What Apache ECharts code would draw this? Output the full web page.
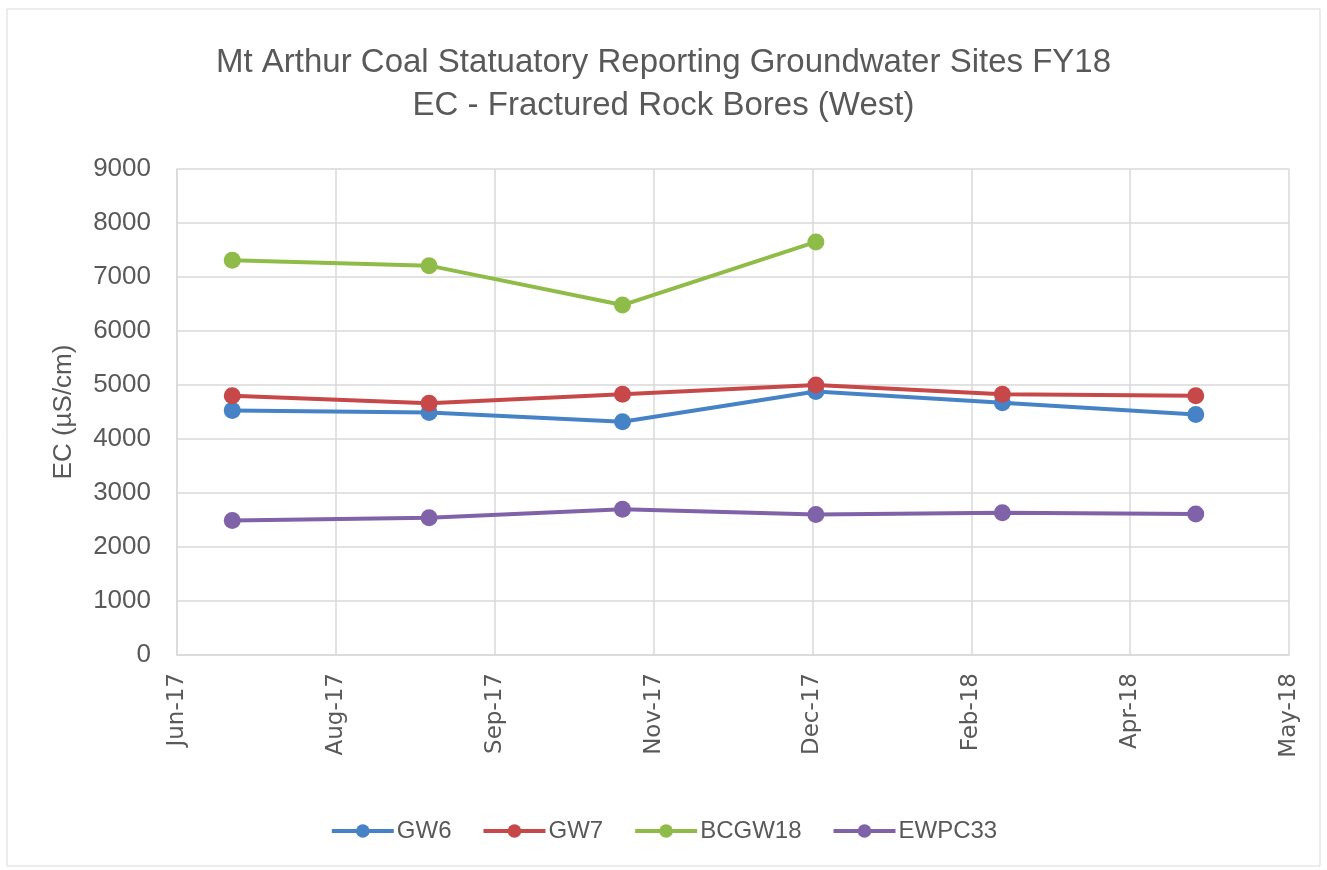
<!DOCTYPE html>
<html>
<head>
<meta charset="utf-8">
<script src="https://cdn.jsdelivr.net/npm/echarts@6/dist/echarts.min.js"></script>
<style>
  html, body { margin: 0; padding: 0; background: #fff; }
  #main { width: 1327px; height: 870px; }
</style>
</head>
<body>
<div id="main"></div>
<script>
// sampling dates and EC readings (µS/cm)
var dates = ['2017-07-16', '2017-09-11', '2017-11-06', '2018-01-01', '2018-02-24', '2018-04-21'];
var gw6 = [4530, 4490, 4320, 4880, 4670, 4455];
var gw7 = [4800, 4660, 4830, 5000, 4830, 4800];
var bcgw18 = [7310, 7210, 6480, 7650];
var ewpc33 = [2490, 2540, 2700, 2600, 2635, 2610];

var seriesNames = ['GW6', 'GW7', 'BCGW18', 'EWPC33'];
var colors = ['#4683C6', '#C64848', '#8FBC48', '#8062A8'];

// x axis: days counted from the axis start date, a tick every 46 days
var axisStart = Date.UTC(2017, 5, 30);
var axisDays = 322;
var tickDays = 46;
var months = ['Jan', 'Feb', 'Mar', 'Apr', 'May', 'Jun', 'Jul', 'Aug', 'Sep', 'Oct', 'Nov', 'Dec'];

function dayOffset(s) {
    var p = s.split('-');
    return Math.round((Date.UTC(+p[0], +p[1] - 1, +p[2]) - axisStart) / 86400000);
}

function pairs(vals) {
    var out = [];
    for (var i = 0; i < vals.length; i++) {
        out.push([dayOffset(dates[i]), vals[i]]);
    }
    return out;
}

var myChart = echarts.init(document.getElementById('main'));
var allVals = [gw6, gw7, bcgw18, ewpc33];
var series = [];
for (var k = 0; k < seriesNames.length; k++) {
    series.push({
        name: seriesNames[k],
        type: 'line',
        data: pairs(allVals[k]),
        symbol: 'circle',
        symbolSize: 17,
        lineStyle: { width: 4, color: colors[k] },
        itemStyle: { color: colors[k] }
    });
}

var option = {
    animation: false,
    color: colors,
    textStyle: { fontFamily: 'Liberation Sans' },
    title: {
        text: 'Mt Arthur Coal Statuatory Reporting Groundwater Sites FY18\nEC - Fractured Rock Bores (West)',
        left: 'center',
        top: 36,
        textStyle: {
            fontFamily: 'Liberation Sans',
            fontSize: 33,
            fontWeight: 'normal',
            color: '#595959',
            lineHeight: 43
        }
    },
    graphic: [{
        type: 'rect',
        shape: { x: 7, y: 9, width: 1313, height: 857 },
        style: { fill: 'none', stroke: '#D9D9D9', lineWidth: 1 },
        silent: true
    }],
    legend: {
        bottom: 22,
        left: 'center',
        itemWidth: 62,
        itemHeight: 17,
        itemGap: 30,
        lineStyle: { width: 4 },
        textStyle: { fontSize: 24, color: '#595959', padding: [0, 0, 0, -2] },
        data: seriesNames
    },
    grid: { left: 177, right: 38, top: 169, bottom: 215 },
    xAxis: {
        type: 'value',
        min: 0,
        max: axisDays,
        interval: tickDays,
        axisLine: { show: true, lineStyle: { color: '#D9D9D9', width: 1.5 } },
        axisTick: { show: false },
        splitLine: { show: true, lineStyle: { color: '#D9D9D9', width: 1.5 } },
        axisLabel: {
            rotate: 90,
            margin: 18,
            fontFamily: 'DejaVu Sans',
            fontSize: 23,
            color: '#595959',
            formatter: function (v) {
                var d = new Date(axisStart + v * 86400000);
                return months[d.getUTCMonth()] + '-' + String(d.getUTCFullYear()).slice(2);
            }
        }
    },
    yAxis: {
        type: 'value',
        min: 0,
        max: 9000,
        interval: 1000,
        name: 'EC (µS/cm)',
        nameLocation: 'middle',
        nameGap: 100,
        nameTextStyle: { fontSize: 26, color: '#595959' },
        axisLine: { show: true, lineStyle: { color: '#D9D9D9', width: 1.5 } },
        axisTick: { show: false },
        splitLine: { show: true, lineStyle: { color: '#D9D9D9', width: 1.5 } },
        axisLabel: {
            fontSize: 26,
            color: '#595959',
            margin: 26,
            formatter: function (v) { return String(v); }
        }
    },
    series: series
};

myChart.setOption(option, true);
</script>
</body>
</html>
